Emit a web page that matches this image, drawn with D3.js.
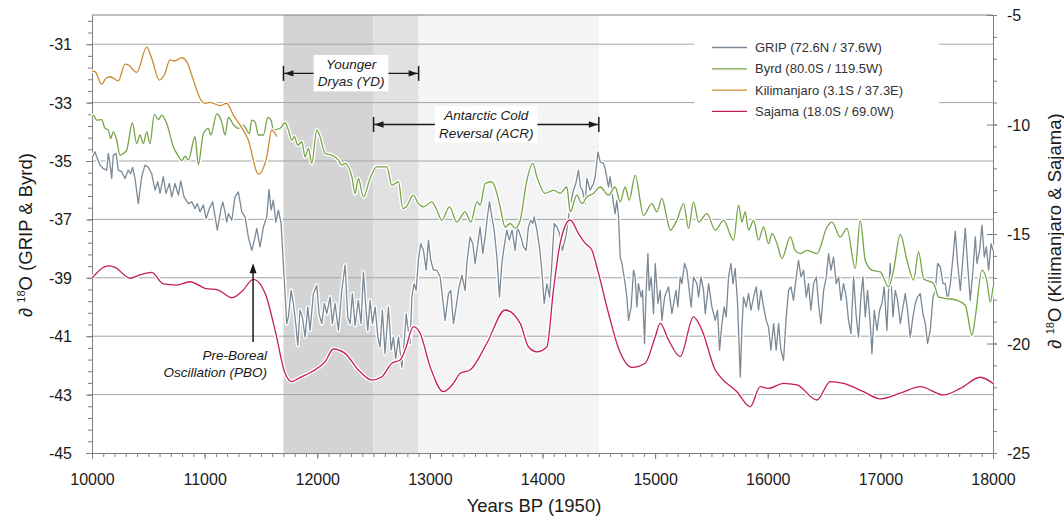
<!DOCTYPE html>
<html>
<head>
<meta charset="utf-8">
<script src="https://cdn.jsdelivr.net/npm/d3@7"></script>
<style>
body { margin: 0; background: #fff; overflow: hidden; }
svg { display: block; }
text { font-family: "Liberation Sans", Arial, sans-serif; }
.axis path, .axis line { stroke: #7f7f7f; }
</style>
</head>
<body>
<div id="chart"></div>
<script>
const width = 1064, height = 519;
const margin = {top: 15, right: 71, bottom: 66, left: 92};
const innerWidth = width - margin.left - margin.right;
const innerHeight = height - margin.top - margin.bottom;

// [year BP, d18O]
const gripData = [[10000,-34.9],[10027,-34.69],[10042,-34.86],[10071,-35.14],[10100,-35.26],[10131,-35.31],[10145,-34.74],[10160,-35.08],[10175,-35.6],[10189,-34.8],[10213,-34.74],[10234,-35.31],[10264,-35.37],[10293,-35.6],[10322,-35.31],[10344,-35.43],[10361,-35.22],[10382,-35.6],[10411,-36.46],[10441,-35.54],[10471,-35.14],[10500,-35.22],[10530,-35.43],[10560,-36.0],[10584,-35.71],[10604,-36.11],[10633,-35.54],[10657,-36.11],[10687,-35.77],[10708,-36.23],[10737,-35.77],[10767,-36.17],[10788,-35.68],[10817,-36.23],[10855,-36.46],[10886,-36.4],[10915,-36.63],[10935,-36.46],[10959,-36.74],[10989,-36.51],[11013,-36.97],[11042,-36.63],[11072,-36.4],[11093,-36.91],[11113,-37.37],[11143,-36.68],[11161,-36.4],[11181,-36.74],[11196,-37.09],[11211,-36.8],[11241,-37.03],[11270,-36.23],[11299,-36.06],[11330,-36.74],[11359,-36.91],[11388,-37.6],[11418,-38.06],[11442,-37.71],[11463,-37.31],[11492,-37.94],[11522,-37.26],[11552,-36.91],[11572,-35.98],[11590,-36.68],[11610,-36.34],[11632,-37.09],[11655,-36.68],[11679,-37.14],[11699,-38.51],[11714,-39.54],[11729,-40.57],[11744,-40.34],[11768,-39.43],[11788,-39.88],[11809,-40.57],[11827,-41.31],[11847,-40.11],[11868,-40.34],[11892,-41.03],[11916,-40.0],[11936,-40.8],[11966,-39.54],[11996,-39.26],[12016,-40.23],[12040,-40.57],[12063,-39.88],[12085,-40.23],[12114,-39.66],[12134,-40.57],[12158,-39.88],[12188,-40.8],[12218,-39.43],[12247,-38.57],[12271,-40.34],[12292,-40.57],[12312,-39.54],[12336,-40.63],[12365,-39.77],[12389,-40.57],[12410,-38.8],[12431,-40.0],[12449,-40.8],[12469,-39.77],[12490,-40.57],[12514,-40.0],[12538,-41.03],[12558,-41.37],[12578,-40.11],[12602,-41.6],[12632,-40.0],[12656,-41.48],[12676,-41.03],[12697,-41.77],[12721,-41.03],[12751,-42.06],[12770,-41.3],[12790,-40.23],[12800,-40.57],[12825,-41.25],[12840,-39.66],[12860,-39.2],[12878,-39.43],[12898,-38.4],[12919,-37.83],[12943,-38.06],[12967,-38.74],[12987,-37.71],[13008,-38.4],[13032,-38.74],[13062,-38.74],[13091,-38.97],[13115,-39.77],[13135,-40.46],[13165,-39.54],[13186,-39.43],[13209,-40.57],[13233,-40.0],[13254,-39.43],[13284,-38.91],[13313,-39.43],[13328,-38.51],[13357,-37.6],[13381,-37.83],[13402,-38.51],[13422,-37.94],[13446,-37.26],[13470,-38.17],[13491,-37.6],[13511,-36.91],[13529,-36.4],[13550,-36.91],[13571,-37.37],[13595,-38.29],[13618,-39.66],[13639,-38.51],[13659,-37.94],[13683,-37.37],[13706,-37.71],[13730,-37.37],[13757,-38.06],[13777,-37.26],[13808,-37.6],[13831,-37.94],[13855,-38.06],[13875,-37.26],[13897,-37.03],[13914,-37.14],[13926,-36.91],[13950,-37.37],[13973,-37.94],[13994,-38.74],[14015,-39.88],[14039,-39.2],[14062,-39.66],[14083,-38.51],[14104,-37.14],[14128,-37.26],[14151,-37.48],[14177,-38.06],[14210,-37.54],[14246,-36.51],[14275,-36.0],[14296,-35.77],[14319,-35.31],[14337,-35.89],[14355,-36.0],[14379,-36.46],[14394,-35.6],[14423,-36.0],[14453,-35.77],[14468,-35.54],[14492,-34.69],[14512,-35.03],[14541,-35.08],[14556,-35.26],[14586,-35.89],[14601,-35.54],[14630,-36.46],[14645,-36.8],[14660,-36.34],[14675,-36.91],[14690,-38.29],[14705,-38.51],[14734,-39.2],[14749,-39.66],[14764,-40.46],[14787,-40.0],[14808,-38.74],[14823,-38.97],[14838,-40.0],[14852,-39.2],[14876,-39.66],[14888,-39.43],[14906,-41.25],[14918,-39.66],[14936,-38.17],[14947,-39.43],[14965,-38.97],[14986,-40.23],[15001,-38.51],[15025,-39.88],[15045,-39.43],[15060,-40.46],[15084,-39.66],[15119,-39.31],[15149,-40.23],[15185,-39.43],[15202,-40.0],[15223,-38.97],[15238,-39.2],[15261,-38.51],[15282,-38.74],[15320,-40.0],[15341,-38.97],[15371,-39.2],[15386,-39.66],[15407,-38.97],[15430,-39.43],[15445,-40.23],[15475,-39.2],[15504,-40.0],[15534,-40.46],[15554,-40.11],[15572,-41.48],[15593,-40.57],[15613,-40.0],[15631,-40.34],[15652,-38.97],[15673,-38.51],[15691,-39.2],[15711,-38.68],[15732,-39.88],[15756,-42.4],[15771,-40.69],[15785,-39.66],[15809,-40.0],[15829,-39.54],[15851,-40.11],[15874,-39.66],[15898,-39.31],[15918,-40.11],[15940,-39.43],[15963,-40.0],[15987,-40.46],[16007,-40.69],[16028,-41.48],[16052,-40.57],[16075,-41.48],[16096,-40.57],[16117,-41.48],[16140,-41.83],[16164,-40.34],[16185,-39.43],[16206,-39.31],[16229,-39.77],[16253,-38.97],[16273,-38.4],[16295,-38.97],[16318,-38.74],[16342,-39.66],[16362,-39.2],[16383,-40.11],[16407,-39.2],[16431,-38.97],[16451,-39.88],[16472,-40.57],[16496,-39.43],[16520,-38.97],[16540,-38.17],[16561,-38.74],[16584,-38.29],[16608,-39.2],[16629,-38.97],[16650,-39.77],[16673,-39.2],[16697,-39.66],[16717,-40.46],[16739,-40.91],[16762,-38.97],[16786,-40.34],[16806,-41.03],[16827,-39.66],[16845,-38.97],[16866,-40.34],[16886,-39.43],[16910,-40.57],[16925,-41.6],[16946,-40.11],[16970,-40.8],[16993,-40.11],[17014,-39.88],[17034,-39.31],[17058,-40.8],[17073,-39.43],[17088,-38.51],[17112,-40.34],[17132,-39.43],[17153,-39.77],[17177,-40.57],[17201,-40.0],[17221,-39.54],[17241,-40.11],[17265,-41.03],[17289,-40.34],[17310,-39.88],[17330,-39.66],[17354,-39.54],[17378,-40.23],[17399,-40.57],[17419,-41.25],[17443,-40.8],[17467,-39.66],[17487,-39.43],[17508,-38.51],[17532,-38.63],[17556,-39.2],[17576,-39.2],[17597,-39.77],[17621,-39.2],[17645,-38.29],[17665,-37.4],[17686,-38.51],[17710,-39.43],[17734,-38.29],[17754,-37.3],[17774,-38.51],[17798,-39.77],[17822,-38.74],[17843,-37.6],[17858,-38.51],[17881,-38.06],[17902,-37.2],[17923,-38.29],[17941,-37.94],[17961,-38.74],[17983,-37.83],[18000,-38.06]];

const byrdData = [[10000,-33.51],[10012,-33.43],[10042,-33.6],[10086,-33.58],[10115,-33.88],[10145,-33.94],[10166,-34.23],[10189,-34.0],[10219,-34.29],[10249,-34.8],[10278,-34.74],[10308,-34.63],[10358,-33.69],[10397,-34.4],[10426,-34.11],[10456,-34.4],[10486,-34.0],[10515,-34.4],[10553,-33.4],[10589,-33.58],[10619,-33.43],[10663,-33.71],[10722,-34.51],[10767,-34.83],[10797,-34.99],[10826,-34.83],[10855,-34.97],[10915,-34.17],[10944,-35.12],[10989,-34.06],[11033,-33.88],[11054,-34.11],[11108,-33.39],[11152,-33.66],[11181,-34.11],[11211,-33.51],[11255,-33.75],[11299,-33.88],[11344,-33.77],[11397,-34.06],[11418,-33.6],[11448,-33.66],[11477,-34.11],[11522,-34.11],[11561,-33.51],[11590,-33.6],[11610,-33.94],[11670,-33.88],[11714,-33.69],[11744,-33.94],[11774,-34.29],[11797,-34.17],[11827,-34.46],[11863,-34.34],[11892,-34.86],[11922,-34.57],[11951,-35.08],[11996,-33.94],[12025,-34.17],[12070,-34.74],[12129,-34.8],[12188,-34.97],[12218,-35.14],[12247,-35.08],[12307,-35.54],[12336,-36.11],[12365,-35.6],[12410,-36.23],[12469,-35.6],[12529,-35.2],[12618,-35.2],[12662,-35.83],[12721,-35.71],[12760,-36.63],[12790,-36.57],[12854,-36.17],[12898,-36.46],[12943,-36.57],[13017,-36.4],[13062,-36.68],[13106,-37.03],[13174,-36.57],[13239,-37.09],[13313,-36.74],[13364,-37.09],[13417,-36.4],[13446,-36.51],[13491,-35.77],[13550,-35.71],[13595,-36.11],[13624,-36.57],[13668,-37.26],[13713,-37.14],[13757,-37.31],[13802,-37.03],[13861,-35.66],[13914,-35.08],[13950,-35.54],[14024,-36.11],[14097,-36.0],[14157,-36.11],[14216,-35.89],[14246,-36.74],[14305,-36.17],[14350,-36.46],[14394,-36.23],[14453,-36.11],[14512,-35.89],[14586,-36.17],[14645,-35.89],[14690,-36.4],[14734,-35.89],[14770,-36.34],[14823,-35.49],[14897,-36.86],[14971,-36.46],[15016,-36.74],[15060,-36.28],[15105,-36.97],[15134,-37.37],[15193,-37.03],[15253,-36.46],[15297,-37.31],[15341,-36.4],[15386,-37.09],[15460,-36.8],[15534,-37.37],[15608,-37.03],[15696,-37.71],[15741,-36.51],[15771,-37.09],[15800,-36.74],[15829,-37.37],[15874,-37.03],[15918,-37.71],[15963,-37.26],[16007,-37.83],[16037,-37.48],[16082,-37.83],[16126,-38.34],[16200,-37.6],[16244,-38.06],[16289,-38.17],[16348,-38.06],[16437,-38.17],[16526,-37.26],[16570,-37.09],[16644,-37.6],[16703,-37.31],[16777,-38.68],[16821,-37.03],[16866,-38.4],[16925,-38.74],[16999,-38.8],[17073,-39.31],[17117,-38.74],[17177,-37.51],[17236,-38.4],[17295,-39.08],[17339,-38.11],[17384,-39.03],[17473,-39.2],[17517,-39.66],[17591,-39.71],[17680,-39.77],[17754,-39.94],[17814,-40.97],[17843,-40.34],[17902,-38.74],[17947,-39.14],[17976,-39.83],[18000,-39.31]];

const kilimanjaroData = [[10000,-7.56],[10027,-7.59],[10086,-8.16],[10124,-7.89],[10160,-7.82],[10234,-8.01],[10293,-7.24],[10322,-7.28],[10397,-7.62],[10486,-6.47],[10530,-6.98],[10598,-7.97],[10642,-7.74],[10693,-7.05],[10731,-7.1],[10797,-6.95],[10841,-7.13],[10900,-7.97],[10959,-8.8],[11004,-9.03],[11048,-8.99],[11137,-9.14],[11196,-9.03],[11255,-9.57],[11314,-10.02],[11388,-10.71],[11477,-12.27],[11552,-11.47],[11596,-10.25],[11641,-10.56]];

const sajamaData = [[10000,-17.02],[10145,-16.46],[10204,-16.52],[10338,-17.02],[10426,-16.87],[10530,-16.75],[10633,-17.28],[10752,-17.33],[10870,-17.18],[11004,-17.48],[11122,-17.56],[11241,-17.91],[11330,-17.63],[11433,-17.07],[11537,-17.71],[11625,-19.38],[11714,-21.36],[11774,-21.74],[11832,-21.59],[11951,-21.29],[12070,-20.83],[12143,-20.25],[12247,-20.45],[12365,-21.21],[12484,-21.67],[12573,-21.52],[12662,-20.9],[12736,-20.75],[12780,-20.3],[12854,-19.23],[12913,-19.53],[13002,-21.06],[13120,-22.2],[13209,-21.82],[13269,-21.36],[13357,-21.21],[13506,-19.99],[13668,-18.47],[13802,-19.08],[13875,-20.15],[13950,-20.38],[14039,-20.15],[14097,-17.56],[14157,-15.42],[14246,-14.36],[14319,-14.97],[14379,-15.42],[14438,-15.73],[14497,-16.79],[14586,-18.62],[14675,-20.22],[14794,-21.09],[14912,-20.9],[15001,-19.69],[15045,-19.08],[15119,-19.84],[15223,-20.6],[15341,-18.78],[15415,-19.38],[15534,-21.21],[15578,-21.52],[15726,-22.2],[15844,-22.89],[15933,-21.97],[16007,-22.05],[16140,-21.82],[16259,-21.89],[16437,-22.58],[16555,-21.74],[16673,-21.82],[16851,-22.2],[16999,-22.53],[17177,-22.27],[17354,-21.97],[17561,-22.35],[17710,-22.05],[17887,-21.54],[18000,-21.82]];

const seriesNames = ["GRIP (72.6N / 37.6W)", "Byrd (80.0S / 119.5W)", "Kilimanjaro (3.1S / 37.3E)", "Sajama (18.0S / 69.0W)"];
const periods = [
    {key: "YD", start: 11700, end: 12900, lines: ["Younger", "Dryas (YD)"]},
    {key: "ACR", start: 12500, end: 14500, lines: ["Antarctic Cold", "Reversal (ACR)"]}
];
const pboYear = 11430;
const pboLines = ["Pre-Boreal", "Oscillation (PBO)"];

const xMajorTicks = d3.range(10000, 18001, 1000);
const xMinorTicks = d3.range(10000, 18001, 100);
const leftTicks = [-45, -43, -41, -39, -37, -35, -33, -31];
const leftMinorTicks = d3.range(0, 38).map(i => -45 + i * 0.4);
const gridValues = [-43, -41, -39, -37, -35, -33, -31];
const rightTicks = [-25, -20, -15, -10, -5];
const rightMinorTicks = d3.range(-25, -4, 1);

const colors = ["#7b8996", "#76a447", "#cc8b2f", "#c41d5c"];
const shadeColors = ["#d4d4d4", "#e1e1e1", "#f4f4f4"];

const xScale = d3.scaleLinear().domain([10000, 18000]).range([0, innerWidth]);
const yLeft = d3.scaleLinear().domain([-45, -30]).range([innerHeight, 0]);
const yRight = d3.scaleLinear().domain([-25, -5]).range([innerHeight, 0]);

const svg = d3.select("#chart")
    .append("svg")
    .attr("width", width)
    .attr("height", height)
    .attr("viewBox", `0 0 ${width} ${height}`);

const innerChart = svg.append("g")
    .attr("transform", `translate(${margin.left}, ${margin.top})`);

// shaded periods: YD only, overlap, ACR only
const yd = periods[0], acr = periods[1];
const shades = [
    [yd.start, acr.start],
    [acr.start, yd.end],
    [yd.end, acr.end]
];
innerChart.selectAll(".shade")
    .data(shades)
    .join("rect")
    .attr("class", "shade")
    .attr("x", d => xScale(d[0]))
    .attr("width", d => xScale(d[1]) - xScale(d[0]))
    .attr("y", 0)
    .attr("height", innerHeight)
    .attr("fill", (d, i) => shadeColors[i]);

// grid
innerChart.selectAll(".grid")
    .data(gridValues)
    .join("line")
    .attr("class", "grid")
    .attr("x1", 0)
    .attr("x2", innerWidth)
    .attr("y1", d => yLeft(d))
    .attr("y2", d => yLeft(d))
    .attr("stroke", "#a3a3a3")
    .attr("stroke-width", 1);

innerChart.append("line")
    .attr("x1", 0).attr("x2", innerWidth)
    .attr("y1", 0).attr("y2", 0)
    .attr("stroke", "#7f7f7f");

// legend background hides grid
const legendX = 602, legendY = 15;
innerChart.append("rect")
    .attr("x", legendX)
    .attr("y", legendY)
    .attr("width", 245)
    .attr("height", 92)
    .attr("fill", "#fff");

const styleTicks = (g) => {
    g.selectAll("text")
        .attr("fill", "#1a1a1a")
        .attr("font-size", 16)
        .attr("font-family", "Liberation Sans, Arial, sans-serif");
};
const dropLabels = (g) => g.selectAll("text").remove();

const drawAxes = () => {
    innerChart.append("g").attr("class", "axis")
        .call(d3.axisLeft(yLeft).tickValues(leftMinorTicks).tickSize(4).tickSizeOuter(0))
        .call(dropLabels);
    innerChart.append("g").attr("class", "axis")
        .call(d3.axisLeft(yLeft).tickValues(leftTicks).tickSize(6).tickSizeOuter(0).tickPadding(14).tickFormat(d => String(d)))
        .call(styleTicks)
        .call(g => g.selectAll("text").attr("dy", null).attr("y", 5.5));

    const bottom = innerChart.append("g").attr("transform", `translate(0, ${innerHeight})`);
    bottom.append("g").attr("class", "axis")
        .call(d3.axisBottom(xScale).tickValues(xMinorTicks).tickSize(4).tickSizeOuter(0))
        .call(dropLabels);
    bottom.append("g").attr("class", "axis")
        .call(d3.axisBottom(xScale).tickValues(xMajorTicks).tickSize(6).tickSizeOuter(0).tickPadding(14).tickFormat(d => String(d)))
        .call(styleTicks)
        .call(g => g.selectAll("text").attr("dy", null).attr("y", 32));

    const right = innerChart.append("g").attr("transform", `translate(${innerWidth}, 0)`);
    right.append("g").attr("class", "axis")
        .call(d3.axisRight(yRight).tickValues(rightMinorTicks).tickSize(4).tickSizeOuter(0))
        .call(dropLabels);
    right.append("g").attr("class", "axis")
        .call(d3.axisRight(yRight).tickValues(rightTicks).tickSize(-6).tickSizeOuter(0))
        .call(dropLabels);
    right.append("g").attr("class", "axis")
        .call(d3.axisRight(yRight).tickValues(rightTicks).tickSize(4).tickSizeOuter(0).tickPadding(10).tickFormat(d => String(d)))
        .call(styleTicks)
        .call(g => g.selectAll("text").attr("dy", null).attr("y", 5.5));
};
drawAxes();

// series
const series = [
    {data: gripData, y: yLeft, curve: d3.curveLinear},
    {data: byrdData, y: yLeft, curve: d3.curveMonotoneX},
    {data: kilimanjaroData, y: yRight, curve: d3.curveMonotoneX},
    {data: sajamaData, y: yRight, curve: d3.curveMonotoneX}
];

series.forEach((s, i) => {
    const line = d3.line()
        .x(d => xScale(d[0]))
        .y(d => s.y(d[1]))
        .curve(s.curve);
    innerChart.append("path")
        .datum(s.data)
        .attr("d", line)
        .attr("fill", "none")
        .attr("stroke", "#fff")
        .attr("stroke-width", 4)
        .attr("stroke-linejoin", "round");
    innerChart.append("path")
        .datum(s.data)
        .attr("d", line)
        .attr("fill", "none")
        .attr("stroke", colors[i])
        .attr("stroke-width", 1.3)
        .attr("stroke-linejoin", "round");
});

// legend
const legend = innerChart.append("g")
    .attr("transform", `translate(${legendX + 18}, ${legendY + 17.5})`);
legend.selectAll("g")
    .data(seriesNames)
    .join("g")
    .attr("transform", (d, i) => `translate(0, ${i * 21.3})`)
    .each(function (d, i) {
        const g = d3.select(this);
        g.append("line").attr("x1", 0).attr("x2", 35).attr("y1", 0).attr("y2", 0)
            .attr("stroke", colors[i]).attr("stroke-width", 1.3);
        g.append("text").attr("x", 43).attr("y", 4.6)
            .attr("font-size", 13).attr("fill", "#333").text(d);
    });

// annotations
const annot = innerChart.append("g").attr("fill", "#1a1a1a").attr("stroke", "#1a1a1a");

const drawSpan = (p, level) => {
    const x1 = xScale(p.start), x2 = xScale(p.end), y = yLeft(level);
    annot.append("line").attr("x1", x1).attr("x2", x2).attr("y1", y).attr("y2", y).attr("stroke-width", 1.3);
    [x1, x2].forEach((x, k) => {
        annot.append("line").attr("x1", x).attr("x2", x).attr("y1", y - 7.5).attr("y2", y + 7.5).attr("stroke-width", 1.5);
        const dir = k === 0 ? 1 : -1;
        annot.append("path")
            .attr("d", `M${x + dir * 1},${y} L${x + dir * 10},${y - 3.2} L${x + dir * 10},${y + 3.2} Z`)
            .attr("stroke", "none");
    });
    const cx = (x1 + x2) / 2;
    const tg = annot.append("g").attr("stroke", "none");
    const txt = tg.append("text")
        .attr("text-anchor", "middle")
        .attr("font-size", 13.5)
        .attr("font-style", "italic")
        .attr("fill", "#1a1a1a");
    p.lines.forEach((t, j) => {
        txt.append("tspan").attr("x", cx).attr("y", y - 4.5 + j * 17.5).text(t);
    });
    const bb = txt.node().getBBox();
    tg.insert("rect", "text")
        .attr("x", bb.x - 4).attr("y", bb.y - 2)
        .attr("width", bb.width + 8).attr("height", bb.height + 4)
        .attr("fill", "#fff");
};
drawSpan(periods[0], -32);
drawSpan(periods[1], -33.75);

// PBO arrow
const px = xScale(pboYear), pyTop = yLeft(-38.5), pyBottom = yLeft(-41.2);
annot.append("line").attr("x1", px).attr("x2", px).attr("y1", pyBottom).attr("y2", pyTop + 8).attr("stroke-width", 1.5);
annot.append("path")
    .attr("d", `M${px},${pyTop} L${px - 3.5},${pyTop + 10} L${px + 3.5},${pyTop + 10} Z`)
    .attr("stroke", "none");
const pboText = annot.append("text")
    .attr("stroke", "none")
    .attr("text-anchor", "end")
    .attr("font-size", 13.5)
    .attr("font-style", "italic");
pboLines.forEach((t, j) => {
    pboText.append("tspan").attr("x", px + 14).attr("y", pyBottom + 18 + j * 17).text(t);
});

// axis titles
const yTitle = (x, y, rest) => {
    const t = svg.append("text")
        .attr("transform", `translate(${x}, ${y}) rotate(-90)`)
        .attr("text-anchor", "middle")
        .attr("font-size", 18.5)
        .attr("fill", "#1a1a1a");
    t.append("tspan").text("\u2202 ");
    t.append("tspan").attr("font-size", 11).attr("dy", -7).text("18");
    t.append("tspan").attr("dy", 7).text("O " + rest);
};
yTitle(32, 235, "(GRIP & Byrd)");
yTitle(1061, 231, "(Kilimanjaro & Sajama)");

svg.append("text")
    .attr("x", 534)
    .attr("y", 512)
    .attr("text-anchor", "middle")
    .attr("font-size", 18.5)
    .attr("fill", "#1a1a1a")
    .text("Years BP (1950)");
</script>
</body>
</html>
